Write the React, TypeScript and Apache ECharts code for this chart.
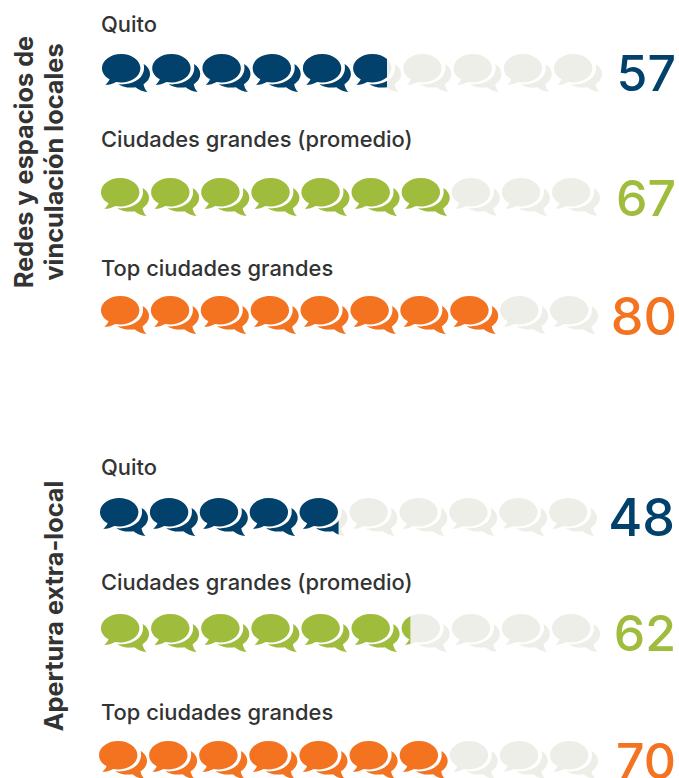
import React, { useEffect, useRef } from "react";
import * as echarts from "echarts";

const rowLabels = ["Quito", "Ciudades grandes (promedio)", "Top ciudades grandes", "Quito", "Ciudades grandes (promedio)", "Top ciudades grandes"];
const rowValues = [57, 67, 80, 48, 62, 70];
const filledValues = [57, 70, 80, 48, 62, 70];
const rowColors = ["#01416b", "#9fbc3c", "#f47321", "#01416b", "#9fbc3c", "#f47321"];
const rowTops = [54, 178, 296, 498, 614, 742];
const rowLefts = [102, 101, 101, 100, 101, 99];
const rowWidths = [500, 499, 497, 497, 499, 499];
const labelYs = [24, 139, 268, 467, 582, 712];
const valueTextYs = [73, 198, 316, 517, 633, 761];
const valueTextRights = [676, 676, 677, 675, 676, 676];
const valueTextSizes = [50, 50, 52, 52, 50, 50];
const emptyColor = "#eeeee8";
const textColor = "#333333";
const FONT = "Inter";

const ICON =
  "path://M19.2 0C29.8 0 38.4 6.4 38.4 14.3C38.4 22.2 29.8 28.6 19.2 28.6C17.5 28.6 15.8 28.4 14.2 28.1C10.5 30 7 31 3.3 31C5.2 29.5 7.2 27 7.6 25.5C3 22.9 0 18.9 0 14.3C0 6.4 8.6 0 19.2 0ZM41.7 10C45.8 12.5 48 16 48 20C48 24.5 45.5 28 41.5 30.5C41.8 33 43.5 36.5 45.5 38.3C41 38 36.5 36 33.5 33.5C27 34.5 21 33.5 16.5 30.5C28 31.5 39 27 41.5 18C42.2 15.5 42.2 12.5 41.7 10Z";

export default function App() {
  const ref = useRef<HTMLDivElement>(null);
  useEffect(() => {
    document.body.style.margin = "0";
    const chart = echarts.init(ref.current!, undefined, { renderer: "svg" });
    const grids = rowTops.map((top, i) => ({ left: rowLefts[i], top, width: rowWidths[i], height: 38 }));
    const xAxes = rowTops.map((_, i) => ({ type: "value", gridIndex: i, min: 0, max: 100, show: false }));
    const yAxes = rowTops.map((_, i) => ({ type: "category", gridIndex: i, data: [rowLabels[i]], show: false }));
    const series: any[] = [];
    rowTops.forEach((_, i) => {
      const common = {
        type: "pictorialBar",
        xAxisIndex: i,
        yAxisIndex: i,
        symbol: ICON,
        symbolSize: [48, 38],
        symbolRepeat: 10,
        symbolBoundingData: 100,
        barGap: "-100%",
        silent: true,
      };
      series.push({ ...common, z: 1, data: [100], itemStyle: { color: emptyColor } });
      series.push({ ...common, z: 2, data: [filledValues[i]], symbolClip: true, itemStyle: { color: rowColors[i] } });
    });
    const graphic: any[] = [];
    rowLabels.forEach((t, i) => {
      graphic.push({
        type: "text", x: 101, y: labelYs[i],
        style: { text: t, font: `500 21.9px ${FONT}`, fill: textColor, textAlign: "left", textVerticalAlign: "middle" },
      });
      graphic.push({
        type: "text", x: valueTextRights[i], y: valueTextYs[i],
        style: { text: String(rowValues[i]), font: `500 ${valueTextSizes[i]}px ${FONT}`, fill: rowColors[i], textAlign: "right", textVerticalAlign: "middle" },
      });
    });
    const side = (text: string, x: number, y: number) => ({
      type: "text", x, y, rotation: Math.PI / 2,
      style: { text, font: `700 25.3px ${FONT}`, fill: textColor, textAlign: "center", textVerticalAlign: "middle" },
    });
    graphic.push(side("Redes y espacios de", 23, 162), side("vinculación locales", 53, 162), side("Apertura extra-local", 53, 606));
    chart.setOption({ animation: false, grid: grids, xAxis: xAxes, yAxis: yAxes, series, graphic });
    return () => chart.dispose();
  }, []);
  return <div ref={ref} style={{ position: "absolute", left: 0, top: 0, width: 679, height: 778, overflow: "hidden" }} />;
}
